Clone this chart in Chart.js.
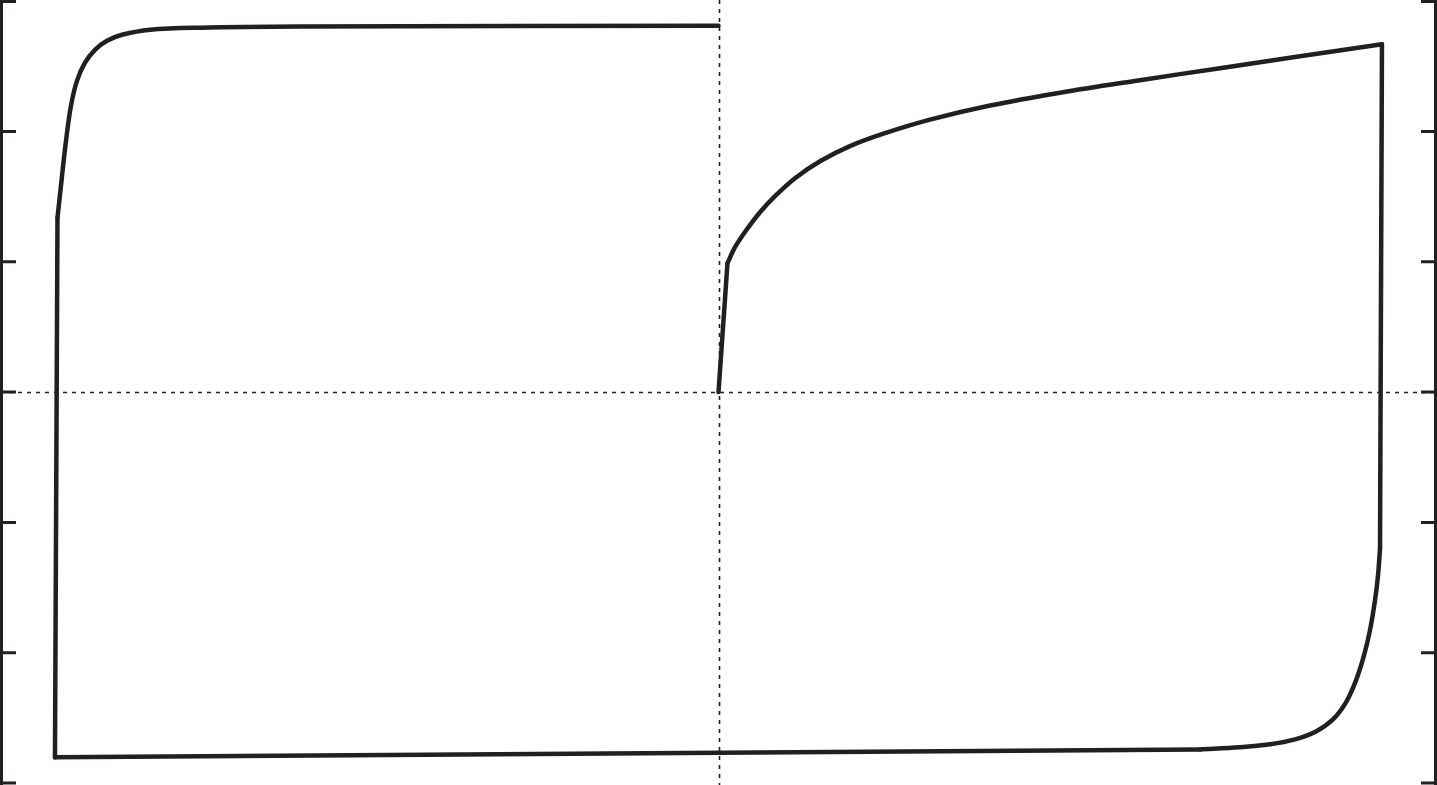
<!DOCTYPE html>
<html>
<head>
<meta charset="utf-8">
<script src="https://cdn.jsdelivr.net/npm/chart.js@4/dist/chart.umd.min.js"></script>
<style>
html,body{margin:0;padding:0;background:#fff;}
#wrap{width:1437px;height:785px;position:relative;}
</style>
</head>
<body>
<div id="wrap"><canvas id="c" width="1437" height="785"></canvas></div>
<script>
// Loop path (normalized field x, response y), in drawing order
const loopX = [0,
  0.0125, 0.0230, 0.0397, 0.0578, 0.0786, 0.1065, 0.1413, 0.1830, 0.2317, 0.2944, 0.3779, 0.4753, 0.5866, 0.6980, 0.8093, 0.9234,
  0.9207, 0.9179, 0.9137, 0.9067, 0.8984, 0.8873, 0.8733, 0.8552, 0.8316, 0.8024, 0.7676, 0.7258, 0.6701,
  -0.9235,
  -0.920, -0.9144, -0.9081, -0.9012, -0.8928, -0.8817, -0.8678, -0.8511, -0.8302, -0.7912, -0.7216, -0.5825, 0];
const loopY = [0,
  0.989, 1.112, 1.250, 1.380, 1.503, 1.641, 1.771, 1.887, 1.986, 2.090, 2.198, 2.297, 2.393, 2.485, 2.577, 2.669,
  -1.200, -1.407, -1.599, -1.829, -2.021, -2.212, -2.381, -2.512, -2.604, -2.665, -2.703, -2.726, -2.742,
  -2.803,
  1.338, 1.622, 1.929, 2.197, 2.389, 2.527, 2.626, 2.695, 2.741, 2.780, 2.796, 2.804, 2.811];
// sharp corners of the path (indices into the arrays above)
const corners = [0, 1, 16, 17, 29, 30, 31, 43];
const yTicks = [-3, -2, -1, 0, 1, 2, 3];
const xRange = [-1, 1];
const yRange = [-3.015, 3.008];

const ink = '#231f20';
const points = loopX.map((x, i) => ({x: x, y: loopY[i]}));

// split the path at its corners: straight pieces between adjacent corners, smooth curves elsewhere
const pieces = [];
for (let k = 0; k < corners.length - 1; k++) {
  const a = corners[k], b = corners[k + 1];
  pieces.push({
    data: points.slice(a, b + 1),
    showLine: true,
    borderColor: ink,
    borderWidth: 4.5,
    borderCapStyle: 'round',
    borderJoinStyle: 'round',
    pointRadius: 0,
    tension: (b - a > 1) ? 0.35 : 0,
    fill: false,
    clip: false
  });
}

const framePlugin = {
  id: 'frame',
  beforeDatasetsDraw(chart) {
    const {ctx, chartArea: a, scales: {x, y}} = chart;
    const x0 = x.getPixelForValue(0), y0 = y.getPixelForValue(0);
    ctx.save();
    ctx.strokeStyle = ink;
    ctx.lineWidth = 1.6;
    ctx.setLineDash([4, 5]);
    ctx.beginPath();
    ctx.moveTo(Math.round(x0) + 0.5, a.top);
    ctx.lineTo(Math.round(x0) + 0.5, a.bottom);
    ctx.moveTo(a.left, Math.round(y0) + 0.5);
    ctx.lineTo(a.right, Math.round(y0) + 0.5);
    ctx.stroke();
    ctx.restore();
  },
  afterDraw(chart) {
    const {ctx, chartArea: a, scales: {y}} = chart;
    ctx.save();
    ctx.strokeStyle = ink;
    ctx.lineWidth = 3;
    ctx.setLineDash([]);
    ctx.beginPath();
    ctx.moveTo(a.left + 1.5, a.top);
    ctx.lineTo(a.left + 1.5, a.bottom);
    ctx.moveTo(a.right - 1.5, a.top);
    ctx.lineTo(a.right - 1.5, a.bottom);
    yTicks.forEach(t => {
      const py = Math.max(a.top + 1.5, Math.min(a.bottom - 1.5, y.getPixelForValue(t)));
      ctx.moveTo(a.left, py);
      ctx.lineTo(a.left + 16, py);
      ctx.moveTo(a.right, py);
      ctx.lineTo(a.right - 16, py);
    });
    ctx.stroke();
    ctx.restore();
  }
};

new Chart(document.getElementById('c'), {
  type: 'scatter',
  data: {datasets: pieces},
  options: {
    responsive: false,
    animation: false,
    layout: {padding: 0},
    plugins: {legend: {display: false}, tooltip: {enabled: false}},
    scales: {
      x: {type: 'linear', min: xRange[0], max: xRange[1], display: false},
      y: {type: 'linear', min: yRange[0], max: yRange[1], display: false}
    }
  },
  plugins: [framePlugin]
});
</script>
</body>
</html>
